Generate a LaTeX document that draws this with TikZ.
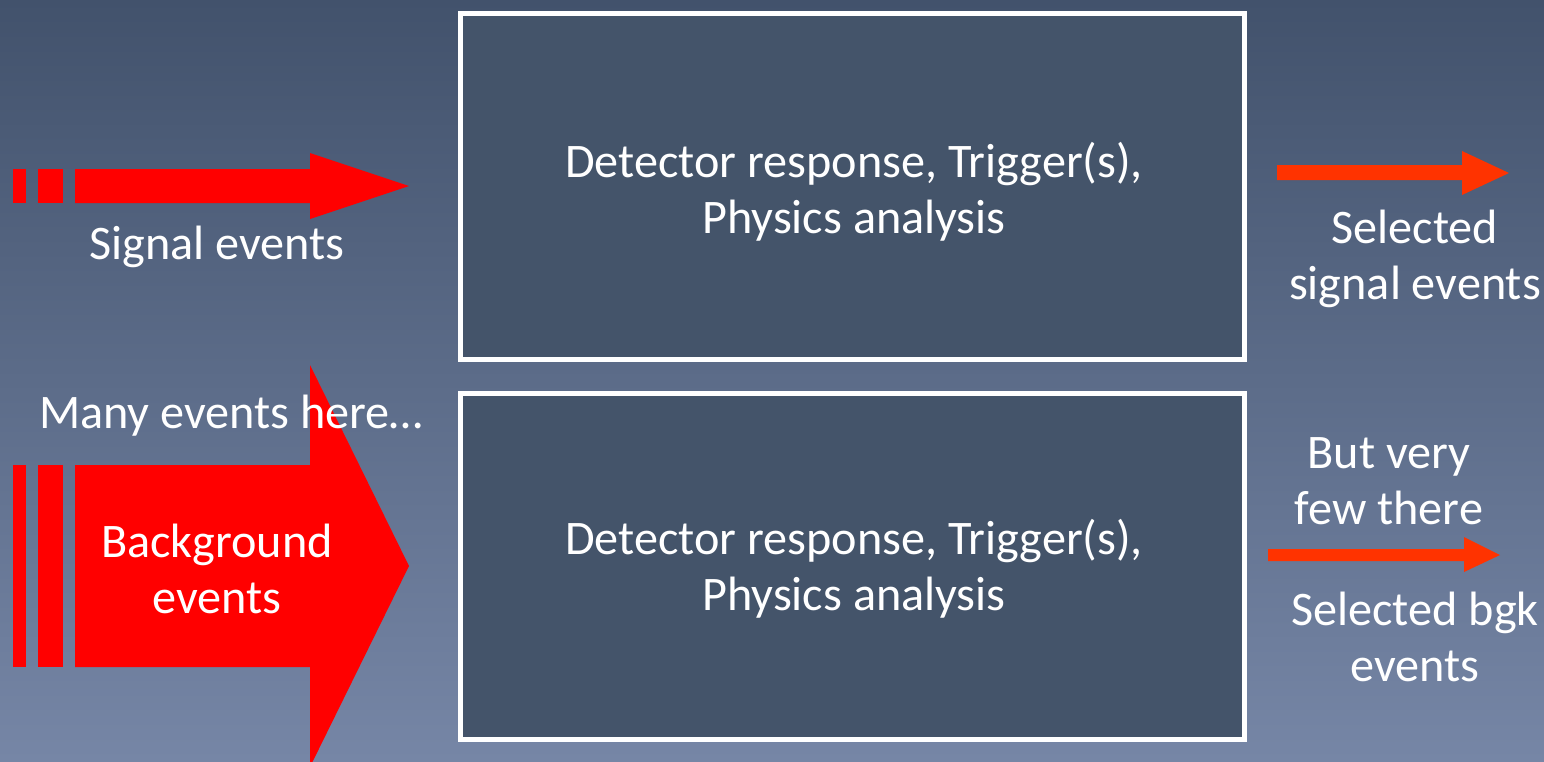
\documentclass[tikz,border=0pt]{standalone}
\usepackage{fontspec}
\setmainfont{Carlito}
\definecolor{bgtop}{RGB}{66,82,108}
\definecolor{bgbot}{RGB}{118,134,166}
\definecolor{boxfill}{RGB}{68,84,106}
\definecolor{bigred}{RGB}{255,0,0}
\definecolor{thinred}{RGB}{255,51,0}
\tikzset{
  stagebox/.style={draw=white, line width=5pt, fill=boxfill, inner sep=0pt},
  lbl/.style={text=white, font=\fontsize{48.2}{56}\selectfont, align=center, inner sep=0pt},
}
\begin{document}
\begin{tikzpicture}[x=1pt,y=-1pt]
\shade[top color=bgtop, bottom color=bgbot] (0,0) rectangle (1544,761);
\useasboundingbox (0,0) rectangle (1544,761);
\clip (0,0) rectangle (1544,761);
% boxes
\node[stagebox, minimum width=784pt, minimum height=346.5pt] (topbox) at (852.5,186.25) {};
\node[stagebox, minimum width=784pt, minimum height=346pt] (botbox) at (852.5,566) {};
\node[lbl] (toptext) at (854,192) {Detector response, Trigger(s),\\Physics analysis};
\node[lbl] (bottext) at (854,569) {Detector response, Trigger(s),\\Physics analysis};
% signal arrow
\fill[bigred] (13,169) rectangle (26,203);
\fill[bigred] (38,169) rectangle (63,203);
\fill[bigred] (75,169) -- (310,169) -- (310,153) -- (409,186) -- (310,219) -- (310,203) -- (75,203) -- cycle;
% background arrow
\fill[bigred] (13,465) rectangle (26,667);
\fill[bigred] (38,465) rectangle (63,667);
\fill[bigred] (75,465) -- (310,465) -- (310,365) -- (409,566) -- (310,767) -- (310,667) -- (75,667) -- cycle;
% thin arrows
\fill[thinred] (1277,165) -- (1462,165) -- (1462,151) -- (1509,173) -- (1462,195) -- (1462,180) -- (1277,180) -- cycle;
\fill[thinred] (1268,549) -- (1464,549) -- (1464,537) -- (1500,555) -- (1464,572) -- (1464,561) -- (1268,561) -- cycle;
% labels
\node[lbl] (sig) at (217,247) {Signal events};
\node[lbl] (many) at (231,416) {Many events here…};
\node[lbl] (bgk) at (217,569) {Background\\events};
\node[lbl] (selsig) at (1415,259) {Selected\\signal events};
\node[lbl] (few) at (1389,481) {But very\\few there};
\node[lbl] (selbgk) at (1415,637) {Selected bgk\\events};
\end{tikzpicture}
\end{document}
